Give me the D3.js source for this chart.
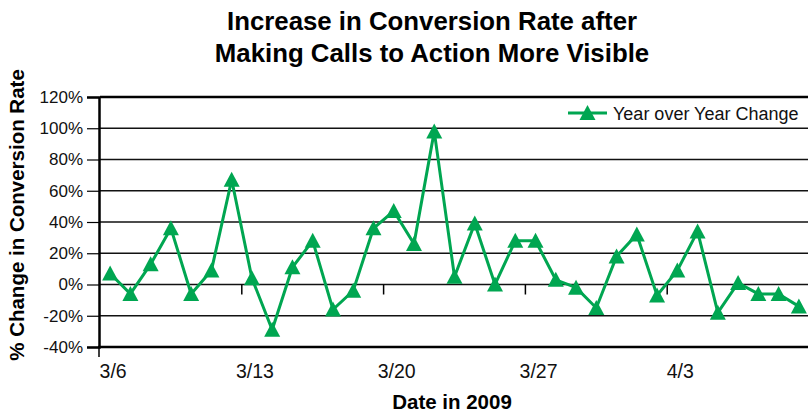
<!DOCTYPE html>
<html>
<head>
<meta charset="utf-8">
<script src="https://cdn.jsdelivr.net/npm/d3@7/dist/d3.min.js"></script>
<style>
  html, body { margin: 0; padding: 0; background: #fff; }
  svg { display: block; font-family: "Liberation Sans", Arial, Helvetica, sans-serif; }
</style>
</head>
<body>
<svg id="chart" width="808" height="414"></svg>
<script>
// Daily dates, 3/6/2009 through 4/9/2009
const dates = [
  "3/6", "3/7", "3/8", "3/9", "3/10", "3/11", "3/12",
  "3/13", "3/14", "3/15", "3/16", "3/17", "3/18", "3/19",
  "3/20", "3/21", "3/22", "3/23", "3/24", "3/25", "3/26",
  "3/27", "3/28", "3/29", "3/30", "3/31", "4/1", "4/2",
  "4/3", "4/4", "4/5", "4/6", "4/7", "4/8", "4/9"
];

// Year-over-year change in conversion rate, percent
const yoyChange = [
  7, -6, 13, 36, -6, 9, 67,
  4, -29, 11, 28, -16, -4, 36,
  47, 26, 98, 5, 39, 0, 28,
  28, 3, -2, -15, 18, 32, -7,
  9, 34, -18, 1, -6, -6, -14
];

// Labelled dates on the horizontal axis (weekly)
const xTickLabels = ["3/6", "3/13", "3/20", "3/27", "4/3"];

// Percent ticks on the vertical axis
const yTicks = [-40, -20, 0, 20, 40, 60, 80, 100, 120];

const titleLines = ["Increase in Conversion Rate after", "Making Calls to Action More Visible"];
const seriesName = "Year over Year Change";

const green = "#00a651";
const svg = d3.select("#chart");

const plot = { left: 100, right: 809, top: 97, bottom: 347 };

const x = d3.scaleBand().domain(dates).range([plot.left, plot.right]).padding(0);
const y = d3.scaleLinear().domain([-40, 120]).range([plot.bottom, plot.top]);

// Horizontal gridlines
svg.append("g")
  .selectAll("line")
  .data(yTicks.filter(v => v > -40 && v < 120))
  .join("line")
  .attr("x1", plot.left).attr("x2", 808)
  .attr("y1", d => y(d)).attr("y2", d => y(d))
  .attr("stroke", "#111").attr("stroke-width", 1.5);

// Top border and bottom axis line
svg.append("line")
  .attr("x1", plot.left).attr("x2", 808)
  .attr("y1", y(120)).attr("y2", y(120))
  .attr("stroke", "#000").attr("stroke-width", 2.5);
svg.append("line")
  .attr("x1", plot.left - 2).attr("x2", 808)
  .attr("y1", y(-40)).attr("y2", y(-40))
  .attr("stroke", "#000").attr("stroke-width", 2.5);

// Vertical axis with outward ticks
const yAxis = d3.axisLeft(y)
  .tickValues(yTicks)
  .tickSize(12)
  .tickPadding(4)
  .tickFormat(d => d + "%");
const yAxisG = svg.append("g")
  .attr("transform", `translate(${plot.left - 1},0)`)
  .call(yAxis);
yAxisG.select(".domain").attr("stroke", "#000").attr("stroke-width", 2.5);
yAxisG.selectAll(".tick line").attr("stroke", "#000").attr("stroke-width", 1.2);
yAxisG.selectAll(".tick text")
  .attr("font-size", 17).attr("fill", "#111")
  .attr("font-family", "Liberation Sans, Arial, sans-serif");

// Left axis extends a little below the plot
svg.append("line")
  .attr("x1", plot.left - 1).attr("x2", plot.left - 1)
  .attr("y1", y(-40)).attr("y2", y(-40) + 10)
  .attr("stroke", "#000").attr("stroke-width", 1.5);

// Weekly tick marks hang from the 0% line, on category boundaries
const weekStarts = xTickLabels.filter((d, i) => i > 0);
svg.append("g")
  .selectAll("line")
  .data(weekStarts)
  .join("line")
  .attr("x1", d => x(d)).attr("x2", d => x(d))
  .attr("y1", y(0)).attr("y2", y(0) + 10)
  .attr("stroke", "#000").attr("stroke-width", 1.5);

// Date labels below the plot, centred on their category
svg.append("g")
  .selectAll("text")
  .data(xTickLabels)
  .join("text")
  .attr("x", d => x(d) + x.bandwidth() / 2 + 3)
  .attr("y", 378)
  .attr("text-anchor", "middle")
  .attr("font-size", 19.5)
  .attr("fill", "#111")
  .text(d => d);

// Series line and triangle markers
const line = d3.line()
  .x((d, i) => x(dates[i]) + x.bandwidth() / 2)
  .y(d => y(d));

svg.append("path")
  .datum(yoyChange)
  .attr("fill", "none")
  .attr("stroke", green)
  .attr("stroke-width", 3)
  .attr("stroke-linejoin", "miter")
  .attr("d", line);

const tri = "M0,-8L8,7L-8,7Z";
svg.append("g")
  .selectAll("path")
  .data(yoyChange)
  .join("path")
  .attr("d", tri)
  .attr("transform", (d, i) => `translate(${x(dates[i]) + x.bandwidth() / 2},${y(d)})`)
  .attr("fill", green);

// Legend
const lg = svg.append("g").attr("transform", "translate(568,113)");
lg.append("line").attr("x1", 0).attr("x2", 39).attr("y1", 0).attr("y2", 0)
  .attr("stroke", green).attr("stroke-width", 3);
lg.append("path").attr("d", tri).attr("transform", "translate(19.5,0)").attr("fill", green);
lg.append("text").attr("x", 45).attr("y", 6.5)
  .attr("font-size", 18).attr("fill", "#111")
  .text(seriesName);

// Title
svg.append("g")
  .selectAll("text")
  .data(titleLines)
  .join("text")
  .attr("x", 432)
  .attr("y", (d, i) => 30 + i * 32)
  .attr("text-anchor", "middle")
  .attr("font-size", 25.8)
  .attr("font-weight", "bold")
  .attr("fill", "#000")
  .text(d => d);

// Axis titles
svg.append("text")
  .attr("x", 452).attr("y", 409)
  .attr("text-anchor", "middle")
  .attr("font-size", 20.5).attr("font-weight", "bold")
  .text("Date in 2009");

svg.append("text")
  .attr("transform", "translate(24,215) rotate(-90)")
  .attr("text-anchor", "middle")
  .attr("font-size", 20.5).attr("font-weight", "bold")
  .text("% Change in Conversion Rate");
</script>
</body>
</html>
